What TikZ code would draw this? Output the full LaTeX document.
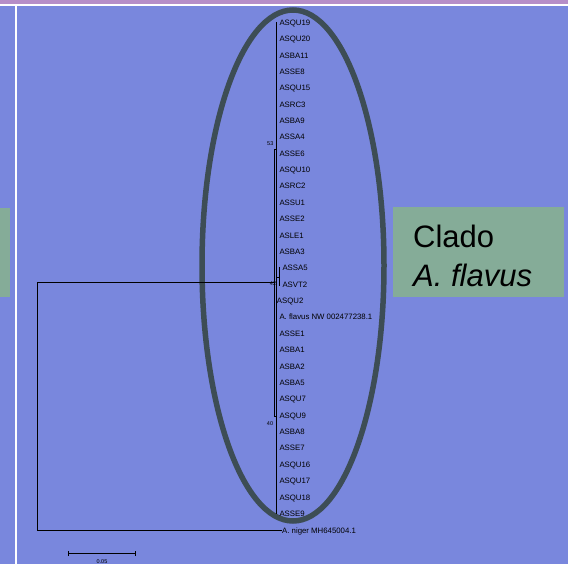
\documentclass[tikz,border=0pt]{standalone}
\usepackage{fontspec}
\setmainfont{Liberation Sans}
\definecolor{bgblue}{RGB}{121,135,221}
\definecolor{topbar}{RGB}{182,142,200}
\definecolor{boxgreen}{RGB}{133,172,152}
\definecolor{ringgray}{RGB}{61,77,85}
\begin{document}
\begin{tikzpicture}[x=1pt,y=-1pt,
  leaf/.style={anchor=base west, inner sep=0pt, font=\fontsize{7.8}{9}\selectfont},
  boot/.style={inner sep=0pt, font=\fontsize{5.5}{6}\selectfont},
  branch/.style={line width=0.75pt, black},
  trunk/.style={line width=1.1pt, black},
  cladetext/.style={anchor=base west, inner sep=0pt, font=\fontsize{31}{39}\selectfont}]
\useasboundingbox (0,0) rectangle (568,564);
% slide background
\fill[bgblue] (0,0) rectangle (568,564);
\fill[topbar] (0,0) rectangle (568,4);
\fill[white] (0,4) rectangle (568,6);
\fill[white] (15,6) rectangle (17,564);
\fill[boxgreen] (0,208) rectangle (10,297);
% clade label box
\fill[boxgreen] (393,207) rectangle (564,297);
\node[cladetext] (clado) at (413,248) {Clado};
\node[cladetext] (flavus) at (413,287) {\itshape A. flavus};
% ring around the A. flavus clade
\draw[ringgray, line width=5.5pt] (293,265.5) ellipse [x radius=91, y radius=255.5];
% leaves
\foreach \name [count=\k from 0] in {ASQU19,ASQU20,ASBA11,ASSE8,ASQU15,ASRC3,ASBA9,ASSA4,ASSE6,ASQU10,ASRC2,ASSU1,ASSE2,ASLE1,ASBA3}
  \node[leaf] (l\k) at (279.3,{25.3+16.37*\k}) {\name};
\node[leaf] (l15) at (282.3,{25.3+16.37*15}) {ASSA5};
\node[leaf] (l16) at (282.3,{25.3+16.37*16}) {ASVT2};
\node[leaf] (l17) at (276.7,{25.3+16.37*17}) {ASQU2};
\node[leaf] (l18) at (279.3,{25.3+16.37*18}) {A. flavus NW 002477238.1};
\foreach \name [count=\k from 19] in {ASSE1,ASBA1,ASBA2,ASBA5,ASQU7,ASQU9,ASBA8,ASSE7,ASQU16,ASQU17,ASQU18,ASSE9}
  \node[leaf] (l\k) at (279.3,{25.3+16.37*\k}) {\name};
\node[leaf] (niger) at (282,533.3) {A. niger MH645004.1};
% branch points
\coordinate (root) at (37.3,282.5);
\coordinate (rootlow) at (37.3,530.5);
\coordinate (trunktop) at (276.5,22.5);
\coordinate (trunkbot) at (276.5,513.5);
\coordinate (innertop) at (274.6,149);
\coordinate (innerbot) at (274.6,416);
\coordinate (joint) at (274.6,282.5);
\coordinate (pairtop) at (279.6,267);
\coordinate (pairbot) at (279.6,286);
\coordinate (pairstem) at (276.5,277);
% tree
\draw[trunk] (trunktop) -- (trunkbot);
\draw[branch] (innertop -| trunktop) -- (innertop) -- (innerbot) -- (innerbot -| trunktop);
\draw[branch] (root) -- (joint);
\draw[branch] (root) -- (rootlow) -- (rootlow -| niger.west);
\draw[branch, line width=0.6pt] (pairtop) -- (pairbot);
\draw[branch, line width=0.6pt] (pairstem) -- (pairstem -| pairtop);
% bootstrap values
\node[boot] (b53) at (270.3,144) {53};
\node[boot] (b42) at (273,283.5) {42};
\node[boot] (b40) at (270,424) {40};
% scale bar
\coordinate (sbl) at (68.3,553.3);
\coordinate (sbr) at (135.7,553.3);
\draw[branch] (sbl) -- (sbr);
\draw[branch] ([yshift=-2.7pt]sbl) -- ([yshift=2.7pt]sbl);
\draw[branch] ([yshift=-2.7pt]sbr) -- ([yshift=2.7pt]sbr);
\node[boot] (sblabel) at (102,561.5) {0.05};
\end{tikzpicture}
\end{document}
